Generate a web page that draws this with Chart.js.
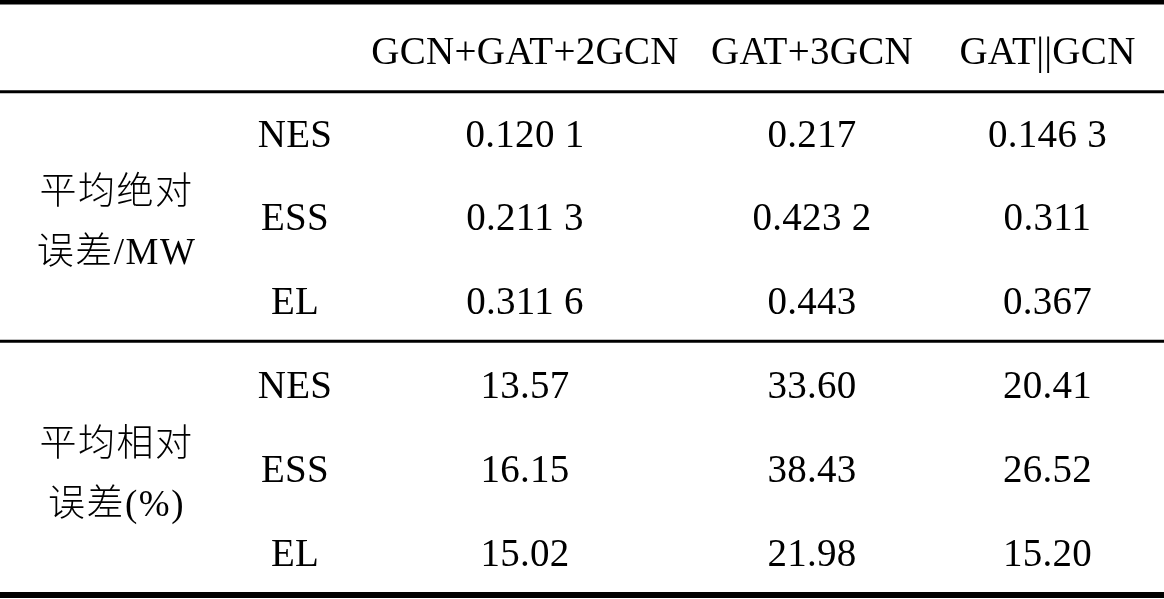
<!DOCTYPE html>
<html>
<head>
<meta charset="utf-8">
<script src="https://cdn.jsdelivr.net/npm/chart.js@4.4.1/dist/chart.umd.min.js"></script>
<style>
  html, body { margin: 0; padding: 0; background: #fff; }
  canvas { display: block; }
</style>
</head>
<body>
<canvas id="errorTable" width="1164" height="599"></canvas>
<script>
// table content
const models = ['GCN+GAT+2GCN', 'GAT+3GCN', 'GAT||GCN'];
const targets = ['NES', 'ESS', 'EL'];
const metricNames = [['平均绝对', '误差/MW'], ['平均相对', '误差(%)']];

// rows follow targets, columns follow models
const maeNES = [0.1201, 0.217, 0.1463];
const maeESS = [0.2113, 0.4232, 0.311];
const maeEL = [0.3116, 0.443, 0.367];
const mreNES = [13.57, 33.60, 20.41];
const mreESS = [16.15, 38.43, 26.52];
const mreEL = [15.02, 21.98, 15.20];

// layout: column widths (px units of the x scale), row heights (units of the y scale)
const colWidths = [233, 124, 336, 238, 233];
const rowHeights = [1.07, 1, 1, 1, 1, 1, 1];

const colEdges = colWidths.reduce((a, w) => a.concat(a[a.length - 1] + w), [0]);
const rowEdges = rowHeights.reduce((a, h) => a.concat(a[a.length - 1] + h), [0]);
const colMid = i => (colEdges[i] + colEdges[i + 1]) / 2;
const rowMid = i => (rowEdges[i] + rowEdges[i + 1]) / 2;

// 0.1201 -> "0.120 1"
const fmtMae = v => {
  const [a, b] = String(v).split('.');
  return b ? a + '.' + b.match(/.{1,3}/g).join(' ') : a;
};
const fmtMre = v => v.toFixed(2);

const toPoints = (rows, rowOffset, fmt) => {
  const pts = [];
  rows.forEach((vals, r) => {
    vals.forEach((v, c) => {
      pts.push({ x: colMid(c + 2), y: rowMid(r + rowOffset), label: fmt(v) });
    });
  });
  return pts;
};

const SERIF = '"Liberation Serif", "Times New Roman", "Noto Sans CJK SC", serif';
const FONT_SIZE = 39;
const INK = '#000';

function textAt(ctx, txt, x, yCenter, size) {
  ctx.font = size + 'px ' + SERIF;
  ctx.textAlign = 'center';
  ctx.textBaseline = 'alphabetic';
  ctx.fillText(txt, x, yCenter + size * 0.33);
}

const tablePlugin = {
  id: 'tablePlugin',
  afterDatasetsDraw(chart) {
    const { ctx, scales: { x, y } } = chart;
    ctx.save();
    ctx.fillStyle = INK;
    ctx.strokeStyle = INK;

    // horizontal rules
    const rules = [[0, 5], [1, 3], [4, 3], [7, 6]];
    rules.forEach(([edge, w]) => {
      const py = y.getPixelForValue(rowEdges[edge]) - (edge === 4 ? 2 : 0);
      ctx.lineWidth = w;
      ctx.beginPath();
      ctx.moveTo(0, py);
      ctx.lineTo(chart.width, py);
      ctx.stroke();
    });

    // header (sits a little below the middle of its row)
    ctx.letterSpacing = '0.3px';
    models.forEach((m, i) => {
      textAt(ctx, m, x.getPixelForValue(colMid(i + 2)), y.getPixelForValue(rowMid(0)) + 4, FONT_SIZE);
    });

    // target names
    [1, 4].forEach(start => {
      targets.forEach((t, r) => {
        textAt(ctx, t, x.getPixelForValue(colMid(1)), y.getPixelForValue(rowMid(start + r)), FONT_SIZE);
      });
    });

    // metric group names (two lines, centred on the middle row)
    ctx.letterSpacing = '1.5px';
    metricNames.forEach((lines, g) => {
      const cy = y.getPixelForValue(rowMid(2 + g * 3));
      const cx = x.getPixelForValue(colMid(0));
      ctx.font = '300 37px ' + SERIF;
      ctx.textAlign = 'center';
      ctx.textBaseline = 'alphabetic';
      ctx.fillText(lines[0], cx, cy - 27 + 37 * 0.36);
      ctx.fillText(lines[1], cx, cy + 33 + 37 * 0.36);
    });
    ctx.letterSpacing = '0.3px';

    // values, placed by the scatter elements
    chart.data.datasets.forEach((ds, di) => {
      const meta = chart.getDatasetMeta(di);
      meta.data.forEach((pt, i) => {
        textAt(ctx, ds.data[i].label, pt.x, pt.y, FONT_SIZE);
      });
    });
    ctx.restore();
  }
};

new Chart(document.getElementById('errorTable'), {
  type: 'scatter',
  data: {
    datasets: [
      { label: 'MAE', data: toPoints([maeNES, maeESS, maeEL], 1, fmtMae), pointRadius: 0, pointHoverRadius: 0 },
      { label: 'MRE', data: toPoints([mreNES, mreESS, mreEL], 4, fmtMre), pointRadius: 0, pointHoverRadius: 0 }
    ]
  },
  options: {
    responsive: false,
    animation: false,
    events: [],
    layout: { padding: { top: 2, bottom: 4, left: 0, right: 0 } },
    plugins: { legend: { display: false }, tooltip: { enabled: false } },
    scales: {
      x: { type: 'linear', display: false, min: 0, max: colEdges[colEdges.length - 1] },
      y: { type: 'linear', display: false, reverse: true, min: 0, max: rowEdges[rowEdges.length - 1] }
    }
  },
  plugins: [tablePlugin]
});
</script>
</body>
</html>
